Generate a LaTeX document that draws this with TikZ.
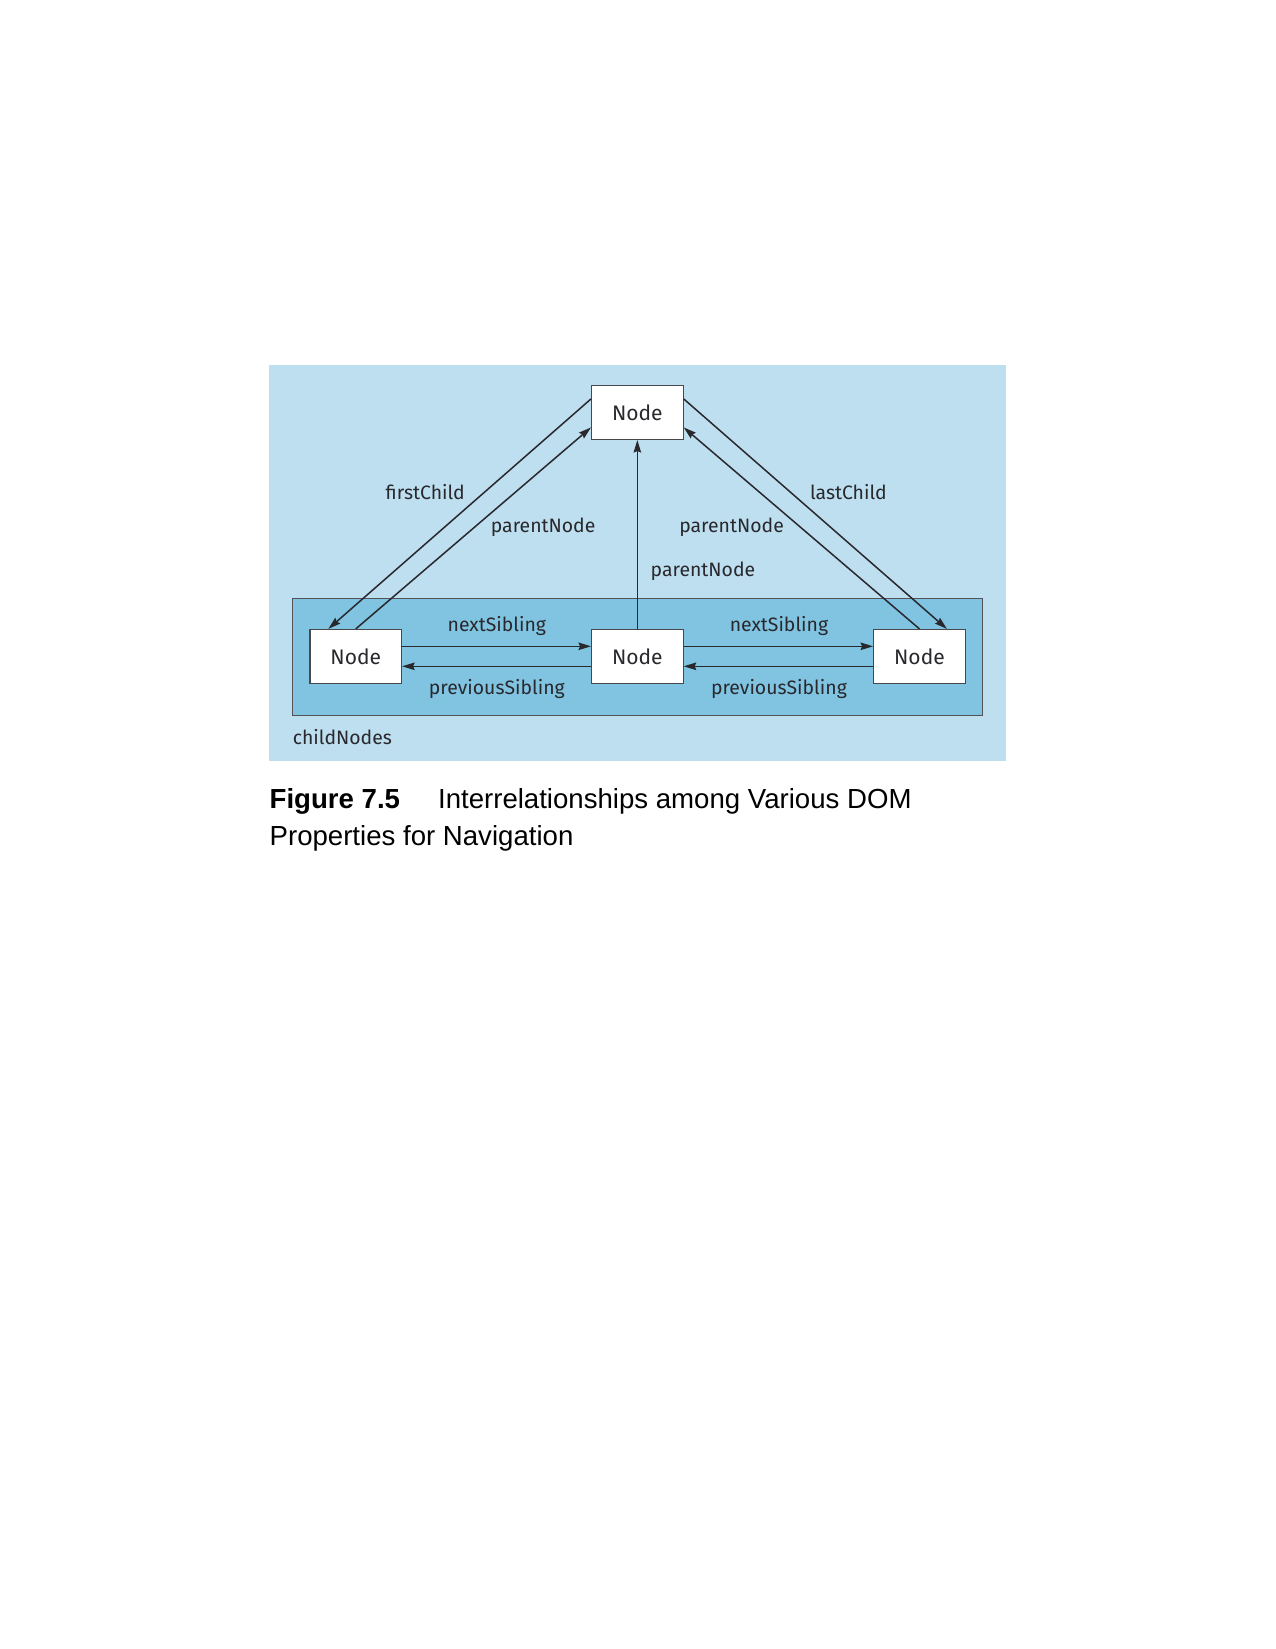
\documentclass[tikz,border=0pt]{standalone}
\usepackage{fontspec}
\setmainfont{Fira Sans}
\newfontfamily\capfont{Liberation Sans}
\usetikzlibrary{arrows.meta}
\definecolor{outerblue}{RGB}{190,223,239}
\definecolor{innerblue}{RGB}{128,196,226}
\definecolor{ink}{RGB}{40,40,45}
\tikzset{
  dnode/.style={draw=ink!85, line width=1.1pt, fill=white, minimum width=91.6pt, minimum height=53.7pt, inner sep=0pt, font=\fontsize{21}{24}\selectfont, text=ink},
  arr/.style={draw=ink, line width=1.5pt, -{Stealth[length=12.5pt,width=7.5pt,inset=1.5pt]}},
  lbl/.style={font=\fontsize{19.4}{23}\selectfont, text=ink, inner sep=0pt},
  captext/.style={anchor=base west, inner sep=0pt, font=\capfont\fontsize{27.6}{35}\selectfont},
}
\begin{document}
\begin{tikzpicture}[x=1.0526pt,y=-1.0526pt]
\useasboundingbox (0,0) rectangle (1211.3,1566.6);
\fill[white] (0,0) rectangle (1211.3,1566.6);
\fill[outerblue] (256,347) rectangle (956,723);
\filldraw[fill=innerblue, draw=ink!80, line width=1pt] (278,569) rectangle (933,680);
\node[dnode] (top) at (605.5,392) {Node};
\node[dnode] (L) at (338,623.5) {Node};
\node[dnode] (M) at (605.5,623.5) {Node};
\node[dnode] (R) at (873.5,623.5) {Node};
% connectors
\draw[arr] ([yshift=-13.7pt]top.north west) -- ([xshift=18.9pt]L.north west);
\draw[arr] (L.north) -- ([yshift=12.6pt]top.south west);
\draw[arr] (M.north) -- (top.south);
\draw[arr] (R.north) -- ([yshift=12.6pt]top.south east);
\draw[arr] ([yshift=-13.7pt]top.north east) -- ([xshift=-18.9pt]R.north east);
\draw[arr] ([yshift=10pt]L.east) -- ([yshift=10pt]M.west);
\draw[arr] ([yshift=10pt]M.east) -- ([yshift=10pt]R.west);
\draw[arr] ([yshift=-10pt]M.west) -- ([yshift=-10pt]L.east);
\draw[arr] ([yshift=-10pt]R.west) -- ([yshift=-10pt]M.east);
% labels
\node[lbl] (l1) at (404,467) {firstChild};
\node[lbl] (l2) at (516,501) {parentNode};
\node[lbl] (l3) at (695,501) {parentNode};
\node[lbl] (l4) at (806,467) {lastChild};
\node[lbl, anchor=west] (l5) at (618,543) {parentNode};
\node[lbl] (l6) at (472,595) {nextSibling};
\node[lbl] (l7) at (740,595) {nextSibling};
\node[lbl] (l8) at (472,655) {previousSibling};
\node[lbl] (l9) at (740,655) {previousSibling};
\node[lbl, anchor=west] (l10) at (278,700) {childNodes};
% caption
\node[captext] (cap1) at (256,768) {\textbf{Figure 7.5}};
\node[captext] (cap2) at (416,768) {Interrelationships among Various DOM};
\node[captext] (cap3) at (256,803) {Properties for Navigation};
\end{tikzpicture}
\end{document}
